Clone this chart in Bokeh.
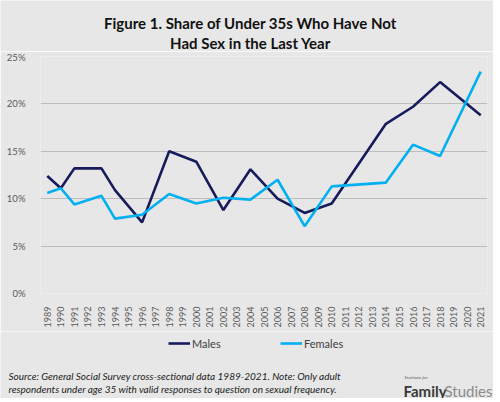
import math
from bokeh.plotting import figure
from bokeh.layouts import column
from bokeh.models import FactorRange, Range1d, Legend, LegendItem, Label, FixedTicker
from bokeh.embed import file_html
from bokeh.resources import INLINE

# ---- data ----
all_years = [str(y) for y in range(1989, 2022)]
survey_years = ["1989", "1990", "1991", "1993", "1994", "1996", "1998", "2000", "2002",
                "2004", "2006", "2008", "2010", "2014", "2016", "2018", "2021"]
males = [12.4, 11.1, 13.2, 13.2, 10.9, 7.5, 15.0, 13.9, 8.8,
         13.1, 10.0, 8.5, 9.5, 17.9, 19.7, 22.3, 18.8]
females = [10.6, 11.1, 9.4, 10.3, 7.9, 8.3, 10.5, 9.5, 10.1,
           9.9, 12.0, 7.1, 11.3, 11.7, 15.7, 14.5, 23.4]
y_ticks = [0, 5, 10, 15, 20, 25]
y_tick_labels = ["0%", "5%", "10%", "15%", "20%", "25%"]
series_names = ["Males", "Females"]
series_colors = ["#161B5C", "#00B0F0"]
title_lines = ["Figure 1. Share of Under 35s Who Have Not", "Had Sex in the Last Year"]
source_lines = ["Source: General Social Survey cross-sectional data 1989-2021. Note: Only adult",
                "respondents under age 35 with valid responses to question on sexual frequency."]

BG = "#E7E7E7"
FONT = "Lato"
W = 493
HEAD_H = 51
MAIN_H = 280
FOOT_H = 67


def blank(h):
    f = figure(width=W, height=h, output_backend="svg", toolbar_location=None,
               x_axis_type=None, y_axis_type=None,
               x_range=Range1d(0, W), y_range=Range1d(h, 0),
               min_border=0, min_border_left=0, min_border_right=0,
               min_border_top=0, min_border_bottom=0)
    f.frame_align = False
    f.background_fill_color = BG
    f.border_fill_color = BG
    f.outline_line_color = None
    f.grid.visible = False
    return f


# ---- header (title) ----
head = blank(HEAD_H)
for i, t in enumerate(title_lines):
    head.add_layout(Label(x=250, y=22.5 + 20 * i, text=t, text_align="center",
                          text_baseline="alphabetic", text_font=FONT, text_font_style="bold",
                          text_font_size="15px", text_line_height=1.0, text_color="#111111"))

# ---- main chart ----
p = figure(width=W, height=MAIN_H, output_backend="svg", toolbar_location=None,
           x_range=FactorRange(factors=all_years, range_padding=0),
           y_range=Range1d(0, 25),
           min_border_left=40, min_border_right=6, min_border_top=5, min_border_bottom=38)
p.frame_align = False
p.background_fill_color = BG
p.border_fill_color = BG
p.outline_line_color = None

p.yaxis.ticker = FixedTicker(ticks=y_ticks)
p.yaxis.major_label_overrides = {t: l for t, l in zip(y_ticks, y_tick_labels)}
p.yaxis.axis_line_color = None
p.yaxis.major_tick_line_color = None
p.yaxis.minor_tick_line_color = None
p.yaxis.major_label_standoff = 9
p.yaxis.major_label_text_font = FONT
p.yaxis.major_label_text_font_size = "9.5px"
p.yaxis.major_label_text_color = "#595959"

p.xaxis.axis_line_color = None
p.xaxis.major_tick_line_color = None
p.xaxis.major_label_orientation = math.pi / 2
p.xaxis.major_label_standoff = 7
p.xaxis.major_label_text_font = FONT
p.xaxis.major_label_text_font_size = "9px"
p.xaxis.major_label_text_color = "#595959"

p.xgrid.grid_line_color = None
p.ygrid.grid_line_color = "#BDBDBD"
p.ygrid.grid_line_width = 1

p.line(survey_years, males, line_color=series_colors[0], line_width=2.6)
p.line(survey_years, females, line_color=series_colors[1], line_width=2.6)

# ---- footer (legend, source, logo) ----
foot = blank(FOOT_H)
nan = float("nan")
leg_r = [foot.line([nan], [nan], line_color=c, line_width=2.6) for c in series_colors]
legend_x = [168, 280]
for n, r, lx in zip(series_names, leg_r, legend_x):
    foot.add_layout(Legend(items=[LegendItem(label=n, renderers=[r])],
                           orientation="horizontal", location=(lx, 45),
                           padding=0, margin=0, glyph_width=22, glyph_height=20,
                           label_standoff=2, label_text_font=FONT, label_text_font_size="11px",
                           label_text_color="#404040", background_fill_alpha=0,
                           border_line_alpha=0), "center")

for i, t in enumerate(source_lines):
    foot.add_layout(Label(x=8, y=44 + 13 * i, text=t, text_align="left",
                          text_baseline="alphabetic", text_font=FONT, text_font_style="italic",
                          text_font_size="10px", text_color="#222222"))

foot.add_layout(Label(x=404, y=46, text="Institute for", text_font="Liberation Serif",
                      text_font_style="italic", text_font_size="5px", text_color="#555555",
                      text_baseline="alphabetic"))
foot.add_layout(Label(x=403, y=59, text="Family", text_font=FONT, text_font_style="bold",
                      text_font_size="15px", text_color="#3A3A3A", text_baseline="alphabetic"))
foot.add_layout(Label(x=492, y=59, text="Studies", text_font=FONT, text_font_size="15px",
                      text_color="#8C8C8C", text_align="right", text_baseline="alphabetic"))

layout = column(head, p, foot, spacing=0)
open("out.html", "w").write(file_html(layout, INLINE))
